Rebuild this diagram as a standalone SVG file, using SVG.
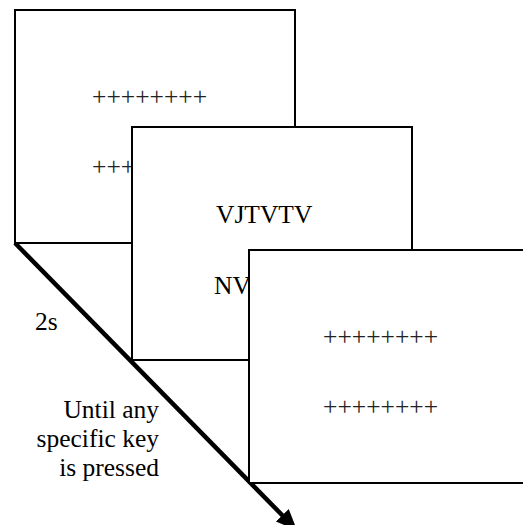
<svg xmlns="http://www.w3.org/2000/svg" width="523" height="525" viewBox="0 0 523 525">
<style>
.box{fill:#fff;stroke:#000;stroke-width:2}
text{font-family:'Liberation Serif','Times New Roman','DejaVu Serif',serif;font-size:25.5px;fill:#000}
.p{fill:#222}
</style>
<defs>
<marker id="ah" markerUnits="userSpaceOnUse" markerWidth="22" markerHeight="20" viewBox="0 0 22 20" refX="1" refY="10" orient="auto">
<path d="M0,1 L21,10 L0,19 Z" fill="#000"/>
</marker>
</defs>
<rect width="523" height="525" fill="#fff"/>
<g id="connectors">
<line x1="15" y1="243" x2="283" y2="516" stroke="#000" stroke-width="4.5" marker-end="url(#ah)"/>
</g>
<g id="screen1">
<rect class="box" x="15" y="10" width="280" height="233"/>
<text class="p" x="92" y="104.5">++++++++</text>
<text class="p" x="92" y="174.5">++++++++</text>
</g>
<g id="screen2">
<rect class="box" x="132" y="127" width="280" height="233"/>
<text x="216" y="223">VJTVTV</text>
<text x="214" y="294">NVJTVTV</text>
</g>
<g id="screen3">
<rect class="box" x="249" y="250" width="290" height="233"/>
<text class="p" x="323" y="344.5">++++++++</text>
<text class="p" x="323" y="414.5">++++++++</text>
</g>
<g id="labels">
<text x="35" y="330">2s</text>
<text x="159" y="418" text-anchor="end">Until any</text>
<text x="159" y="447" text-anchor="end">specific key</text>
<text x="159" y="476" text-anchor="end">is pressed</text>
</g>
</svg>
